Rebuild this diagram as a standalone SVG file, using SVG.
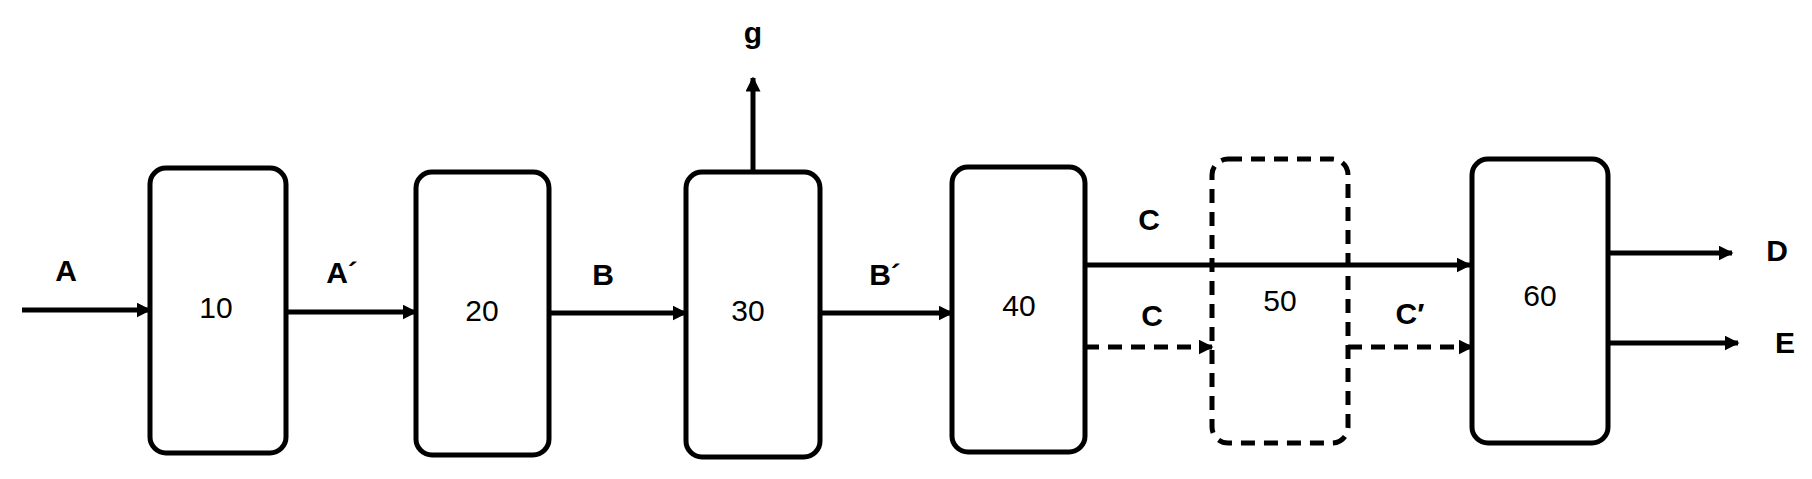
<svg xmlns="http://www.w3.org/2000/svg" width="1812" height="479" viewBox="0 0 1812 479">
<style>
.box{fill:#fff;stroke:#000;stroke-width:5}
.dash{stroke-dasharray:14 9}
.num{font-family:"Liberation Sans",sans-serif;font-size:30px;text-anchor:middle;dominant-baseline:middle}
.lbl{font-family:"Liberation Sans",sans-serif;font-size:30px;font-weight:bold;text-anchor:middle;dominant-baseline:middle}
.ln{stroke:#000;stroke-width:5;fill:none;marker-end:url(#ah)}
</style>
<defs><marker id="ah" viewBox="0 0 10 10" refX="9" refY="5" markerWidth="3" markerHeight="3" orient="auto" markerUnits="strokeWidth"><path d="M0,0L10,5L0,10z" fill="#000"/></marker></defs>
<g id="connectors">
<path class="ln" d="M22,310H150"/>
<path class="ln" d="M286,312H416"/>
<path class="ln" d="M549,313H686"/>
<path class="ln" d="M820,313H952"/>
<path class="ln" d="M753,172V78"/>
<path class="ln" d="M1085,265H1470"/>
<path class="ln dash" d="M1085,347H1212"/>
<path class="ln dash" d="M1348,347H1472"/>
<path class="ln" d="M1608,253H1732"/>
<path class="ln" d="M1608,343H1738"/>
</g>
<g id="n10"><rect class="box" x="150" y="168" width="136" height="285" rx="16"/><text class="num" x="216" y="310">10</text></g>
<g id="n20"><rect class="box" x="416" y="172" width="133" height="283" rx="16"/><text class="num" x="482" y="313">20</text></g>
<g id="n30"><rect class="box" x="686" y="172" width="134" height="285" rx="16"/><text class="num" x="748" y="313">30</text></g>
<g id="n40"><rect class="box" x="952" y="167" width="133" height="285" rx="16"/><text class="num" x="1019" y="308">40</text></g>
<g id="n50"><rect class="box dash" x="1212" y="159" width="136" height="284" rx="16" fill="none" style="fill:none"/><text class="num" x="1280" y="303">50</text></g>
<g id="n60"><rect class="box" x="1472" y="159" width="136" height="284" rx="16"/><text class="num" x="1540" y="298">60</text></g>
<g id="labels">
<text class="lbl" x="66" y="273">A</text>
<text class="lbl" x="342" y="275">A´</text>
<text class="lbl" x="603" y="277">B</text>
<text class="lbl" x="885" y="277">B´</text>
<text class="lbl" x="753" y="35">g</text>
<text class="lbl" x="1149" y="222">C</text>
<text class="lbl" x="1152" y="318">C</text>
<text class="lbl" x="1410" y="316">C′</text>
<text class="lbl" x="1777" y="253">D</text>
<text class="lbl" x="1785" y="345">E</text>
</g>
</svg>
